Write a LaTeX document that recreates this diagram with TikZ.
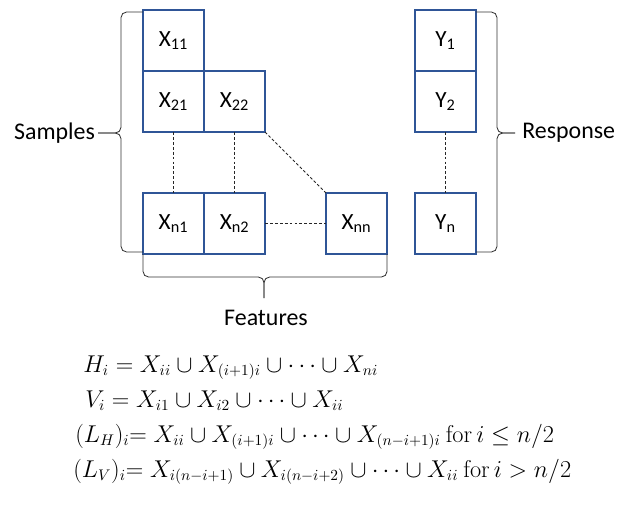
\documentclass[tikz,border=0pt]{standalone}
\usepackage[no-math]{fontspec}
\setmainfont{Carlito}
\usepackage{amsmath}
\usetikzlibrary{positioning}
\definecolor{cellblue}{HTML}{2F5597}

\begin{document}
\begin{tikzpicture}[
  x=0.025cm, y=0.025cm,
  cell/.style={draw=cellblue, line width=1.1pt, minimum size=1.525cm, inner sep=0pt, outer sep=0pt, font=\fontsize{16.5}{19}\selectfont},
  gap/.style={draw=black!85, dash pattern=on 2pt off 1.5pt, line width=0.7pt},
  curly/.style={draw=black!80, line width=0.6pt, rounded corners=4pt},
  sidetext/.style={font=\fontsize{17}{20}\selectfont, inner sep=0pt},
  eqline/.style={anchor=base west, inner sep=0pt, font=\fontsize{16}{19}\selectfont}
]
\useasboundingbox (0,0) rectangle (623,507);

% feature matrix
\node[cell] (X11) at (173.5,466.5) {X\textsubscript{11}};
\node[cell, below=0pt of X11] (X21) {X\textsubscript{21}};
\node[cell, right=0pt of X21] (X22) {X\textsubscript{22}};
\node[cell] (Xn1) at (173.5,283.5) {X\textsubscript{n1}};
\node[cell, right=0pt of Xn1] (Xn2) {X\textsubscript{n2}};
\node[cell, right=1.525cm of Xn2] (Xnn) {X\textsubscript{nn}};

% response column
\node[cell] (Y1) at (445.5,466.5) {Y\textsubscript{1}};
\node[cell, below=0pt of Y1] (Y2) {Y\textsubscript{2}};
\node[cell] (Yn) at (445.5,283.5) {Y\textsubscript{n}};

\draw[gap] (X21.south) -- (Xn1.north);
\draw[gap] (X22.south) -- (Xn2.north);
\draw[gap] (X22.south east) -- (Xnn.north west);
\draw[gap] (Xn2.east) -- (Xnn.west);
\draw[gap] (Y2.south) -- (Yn.north);

% braces
\coordinate (sTip) at (98,374);
\coordinate (rTip) at (515,374);
\coordinate (fTip) at (264,209);
\draw[curly] ([yshift=-0.05cm]X11.north west) -- ++(-22,0) |- (sTip);
\draw[curly] ([yshift=0.05cm]Xn1.south west) -- ++(-22,0) |- (sTip);
\draw[curly] ([yshift=-0.05cm]Y1.north east) -- ++(21,0) |- (rTip);
\draw[curly] ([yshift=0.05cm]Yn.south east) -- ++(21,0) |- (rTip);
\draw[curly] (Xn1.south west) -- ++(0,-23) -| (fTip);
\draw[curly] (Xnn.south east) -- ++(0,-23) -| (fTip);

\node[sidetext, anchor=east] (samples) at ([xshift=-2pt]sTip) {Samples};
\node[sidetext, anchor=west] (response) at (522,374) {Response};
\node[sidetext] (features) at (266,189) {Features};

% set definitions
\node[eqline] (eqH) at (83,135) {$H_i = X_{ii} \cup X_{(i+1)i} \cup \cdots \cup X_{ni}$};
\node[eqline] (eqV) at (85,100) {$V_i = X_{i1} \cup X_{i2} \cup \cdots \cup X_{ii}$};
\node[eqline] (eqLH) at (75,65) {$(L_H)_i{=}\;X_{ii} \cup X_{(i+1)i} \cup \cdots \cup X_{(n-i+1)i}\ \mathrm{for}\,i \le n/2$};
\node[eqline] (eqLV) at (73,30) {$(L_V)_i{=}\;X_{i(n-i+1)} \cup X_{i(n-i+2)} \cup \cdots \cup X_{ii}\ \mathrm{for}\,i > n/2$};
\end{tikzpicture}
\end{document}
